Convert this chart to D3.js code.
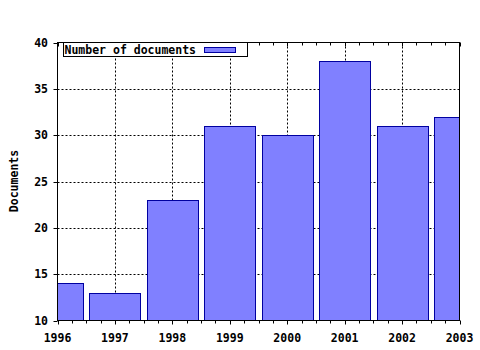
<!DOCTYPE html>
<head>
<style>
body { margin: 0; background: #fff; }
text { font-family: "DejaVu Sans Mono", monospace; font-weight: bold; font-size: 11.5px; fill: #000; }
</style>
</head>
<body>
<svg width="480" height="350"></svg>
<script src="https://d3js.org/d3.v7.min.js"></script>
<script>

var years = [1996, 1997, 1998, 1999, 2000, 2001, 2002, 2003];
var documents = [14, 13, 23, 31, 30, 38, 31, 32];
var yTicks = [10, 15, 20, 25, 30, 35, 40];
var seriesName = "Number of documents";

var pLeft = 57.5, pRight = 459.5, pTop = 42.5, pBottom = 320.5;

var svg = d3.select("svg");

var x = d3.scaleLinear().domain([1996, 2003]).range([pLeft, pRight]);
var y = d3.scaleLinear().domain([10, 40]).range([pBottom, pTop]);

var minor = d3.range(1996, 2003.001, 0.25);

// grid
var grid = svg.append("g").attr("stroke", "#000").attr("stroke-dasharray", "2,2");
grid.selectAll(".gy").data(yTicks.slice(1, -1)).enter().append("line")
    .attr("x1", pLeft).attr("x2", pRight)
    .attr("y1", function(d) { return Math.round(y(d)) + 0.5; })
    .attr("y2", function(d) { return Math.round(y(d)) + 0.5; });
grid.selectAll(".gx").data(years.slice(1, -1)).enter().append("line")
    .attr("y1", pTop).attr("y2", pBottom)
    .attr("x1", function(d) { return Math.round(x(d)) + 0.5; })
    .attr("x2", function(d) { return Math.round(x(d)) + 0.5; });

// bars
svg.append("clipPath").attr("id", "plot")
  .append("rect").attr("x", pLeft).attr("y", pTop).attr("width", pRight - pLeft).attr("height", pBottom - pTop);

var bw = 51;
svg.append("g").attr("clip-path", "url(#plot)")
  .selectAll("rect").data(years).enter().append("rect")
    .attr("x", function(d) { return Math.round(x(d) - bw / 2) + 0.5; })
    .attr("y", function(d, i) { return Math.round(y(documents[i])) + 0.5; })
    .attr("width", bw)
    .attr("height", function(d, i) { return Math.round(y(10)) - Math.round(y(documents[i])); })
    .attr("fill", "#8080ff")
    .attr("stroke", "#0000a0");

// frame
svg.append("rect").attr("x", pLeft).attr("y", pTop).attr("width", pRight - pLeft).attr("height", pBottom - pTop)
    .attr("fill", "none").attr("stroke", "#000");

// x ticks (bottom outward, top inward)
var ticks = svg.append("g").attr("stroke", "#000");
ticks.selectAll(".xb").data(minor).enter().append("line")
    .attr("x1", function(d) { return Math.round(x(d)) + 0.5; })
    .attr("x2", function(d) { return Math.round(x(d)) + 0.5; })
    .attr("y1", pBottom).attr("y2", function(d) { return pBottom + (d % 1 === 0 ? 4 : 3); });
ticks.selectAll(".xt").data(minor).enter().append("line")
    .attr("x1", function(d) { return Math.round(x(d)) + 0.5; })
    .attr("x2", function(d) { return Math.round(x(d)) + 0.5; })
    .attr("y1", pTop).attr("y2", function(d) { return pTop + (d % 1 === 0 ? 4 : 3); });
ticks.selectAll(".yl").data(yTicks).enter().append("line")
    .attr("x1", pLeft - 4).attr("x2", pLeft)
    .attr("y1", function(d) { return Math.round(y(d)) + 0.5; })
    .attr("y2", function(d) { return Math.round(y(d)) + 0.5; });

// labels
svg.selectAll(".xl").data(years).enter().append("text")
    .attr("x", function(d) { return x(d); })
    .attr("y", 342)
    .attr("text-anchor", "middle")
    .text(function(d) { return d; });
svg.selectAll(".ylab").data(yTicks).enter().append("text")
    .attr("x", 48)
    .attr("y", function(d) { return y(d) + 4; })
    .attr("text-anchor", "end")
    .text(function(d) { return d; });

svg.append("text")
    .attr("transform", "translate(18,181) rotate(-90)")
    .attr("text-anchor", "middle")
    .text("Documents");

// legend
var lg = svg.append("g");
lg.append("rect").attr("x", 63.5).attr("y", 42.5).attr("width", 184).attr("height", 14)
    .attr("fill", "#fff").attr("stroke", "#000");
lg.append("text").attr("x", 64.5).attr("y", 54).text(seriesName);
lg.append("rect").attr("x", 204.5).attr("y", 47.5).attr("width", 31).attr("height", 5)
    .attr("fill", "#8080ff").attr("stroke", "#0000a0");

</script>
</body>
